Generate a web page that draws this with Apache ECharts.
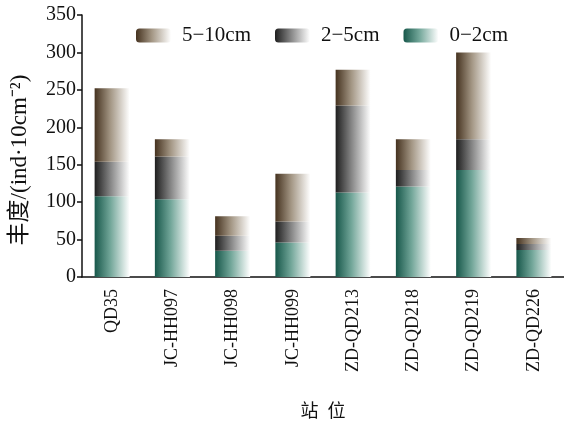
<!DOCTYPE html>
<html><head><meta charset="utf-8">
<script src="https://cdn.jsdelivr.net/npm/echarts@6/dist/echarts.min.js"></script>
<style>html,body{margin:0;padding:0;background:#fff}#c{width:564px;height:426px}</style>
</head><body><div id="c"></div>
<script>
const categories = ['QD35','JC-HH097','JC-HH098','JC-HH099','ZD-QD213','ZD-QD218','ZD-QD219','ZD-QD226'];
const s0_2 = [108, 104, 35, 46, 113, 121, 143, 36];
const s2_5 = [46, 57, 20, 28, 116, 22, 41, 8];
const s5_10 = [98, 23, 26, 64, 48, 41, 116, 8];
const yTicks = [0, 50, 100, 150, 200, 250, 300, 350];

const FONT = '"Liberation Serif","Noto Sans CJK SC",serif';
function grad(c0, c1, c2) {
  return new echarts.graphic.LinearGradient(0, 0, 1, 0, [
    {offset: 0, color: c0}, {offset: 0.45, color: c1}, {offset: 1, color: c2}
  ]);
}
const colTop = grad('#45321f', '#a39684', '#ffffff');
const colMid = grad('#1e1e1e', '#858585', '#ffffff');
const colBot = grad('#17574a', '#72a699', '#ffffff');

const chart = echarts.init(document.getElementById('c'));
chart.setOption({
  animation: false,
  textStyle: {fontFamily: FONT},
  legend: {
    data: ['5-10cm', '2-5cm', '0-2cm'],
    top: 20, left: 131,
    itemWidth: 35, itemHeight: 14, itemGap: 24,
    textStyle: {fontFamily: FONT, fontSize: 21, color: '#111', padding: [0, 0, 0, 6]},
    formatter: n => n.replace('-', '\u2212')
  },
  grid: {left: 82, top: 15, width: 484, height: 262, containLabel: false},
  xAxis: {
    type: 'category', data: categories,
    name: '站\u2002位', nameLocation: 'middle', nameGap: 126,
    nameTextStyle: {fontFamily: FONT, fontSize: 18, color: '#111'},
    axisLine: {lineStyle: {color: '#111', width: 1.5}},
    axisTick: {show: false},
    axisLabel: {rotate: 90, fontSize: 18, color: '#111', margin: 12, fontFamily: FONT}
  },
  yAxis: {
    type: 'value', min: yTicks[0], max: yTicks[yTicks.length - 1], interval: 50,
    name: '丰度/(ind·10cm\u207B\u00B2)', nameLocation: 'middle', nameGap: 51, nameRotate: 90,
    nameTextStyle: {fontFamily: FONT, fontSize: 23, color: '#111', padding: [0, 28, 0, 0]},
    axisLine: {show: true, lineStyle: {color: '#111', width: 1.5}},
    axisTick: {show: true, length: 5, lineStyle: {color: '#111', width: 1.5}},
    splitLine: {show: false},
    axisLabel: {fontSize: 20, color: '#111', margin: 6, fontFamily: FONT}
  },
  series: [
    {name: '0-2cm', type: 'bar', stack: 't', data: s0_2, barWidth: 35, itemStyle: {color: colBot}},
    {name: '2-5cm', type: 'bar', stack: 't', data: s2_5, barWidth: 35, itemStyle: {color: colMid}},
    {name: '5-10cm', type: 'bar', stack: 't', data: s5_10, barWidth: 35, itemStyle: {color: colTop}}
  ]
});
</script></body></html>
